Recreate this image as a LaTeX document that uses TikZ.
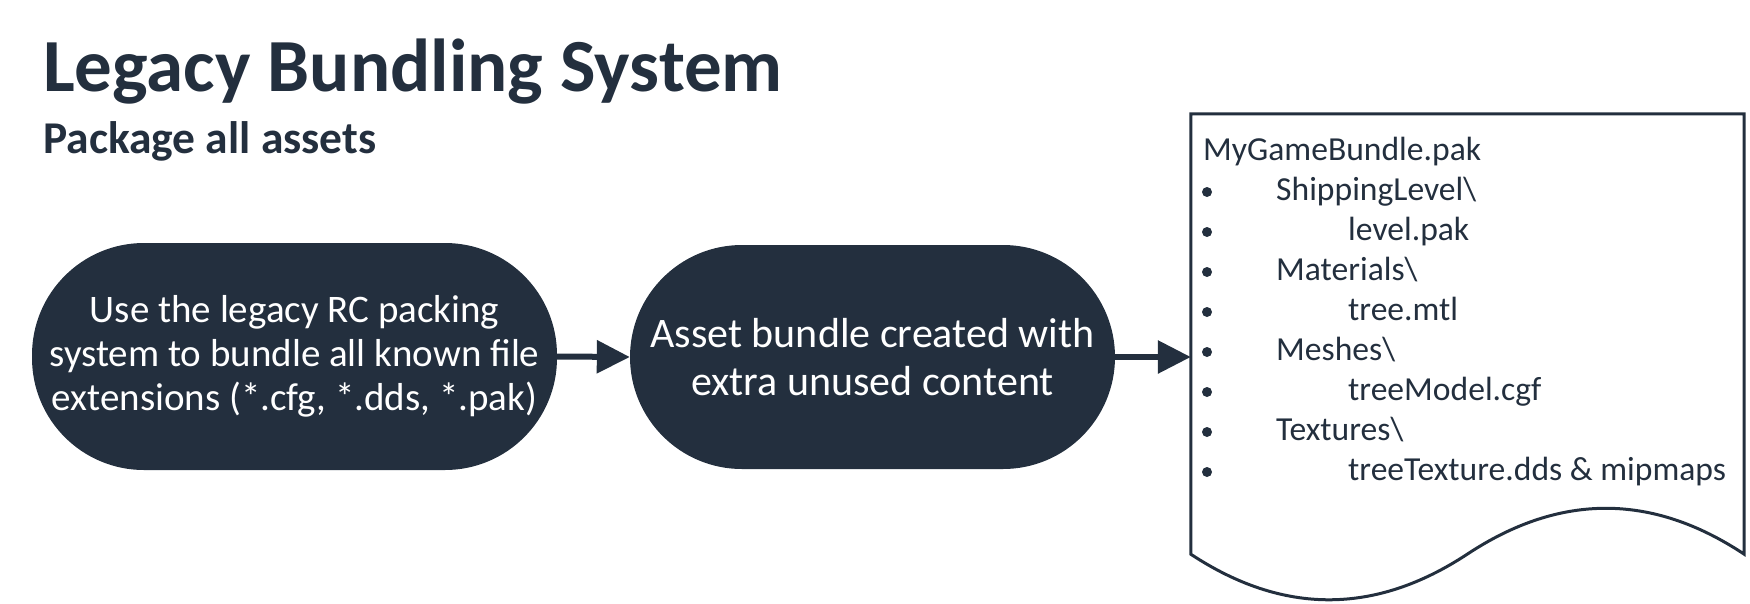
\documentclass[tikz,border=0pt]{standalone}
\usepackage{fontspec}
\setmainfont{Carlito}
\usetikzlibrary{arrows.meta}
\definecolor{ink}{HTML}{232F3E}
\tikzset{
  pill/.style={fill=ink, draw=none, rounded corners=112pt, text=white, align=center, inner sep=0pt},
  flowarrow/.style={draw=ink, line width=6pt, -{Triangle[length=33pt,width=32pt]}},
  doctext/.style={anchor=base west, inner sep=0pt, text=ink, font=\fontsize{33.6}{40}\selectfont},
  bulletdot/.style={fill=ink},
}
\begin{document}
\begin{tikzpicture}[x=1pt, y=-1pt]
\useasboundingbox (0,0) rectangle (1750,603);
% titles
\node[anchor=base west, inner sep=0pt, text=ink, font=\fontsize{75}{90}\selectfont\bfseries] (title) at (43,91) {Legacy Bundling System};
\node[anchor=base west, inner sep=0pt, text=ink, font=\fontsize{45.5}{52}\selectfont\bfseries] (subtitle) at (43,153) {Package all assets};
% process nodes
\node[pill, minimum width=525pt, minimum height=227pt, font=\fontsize{39}{44}\selectfont] (n1) at (294.5,356.5)
  {Use the legacy RC packing\\system to bundle all known file\\extensions (*.cfg, *.dds, *.pak)};
\node[pill, minimum width=485pt, minimum height=224pt, font=\fontsize{42}{48}\selectfont] (n2) at (872.5,357)
  {Asset bundle created with\\extra unused content};
% document shape
\node[inner sep=0pt, minimum width=553pt, minimum height=440pt] (doc) at (1467.5,334) {};
\draw[draw=ink, line width=3pt, line join=miter]
  (doc.north west) -- (doc.north east) -- (doc.south east)
  .. controls (1652,493) and (1560,493) .. (1467.5,554)
  .. controls (1375,615) and (1283,615) .. (doc.south west) -- cycle;
% arrows
\draw[flowarrow] (n1.east) -- (n2.west);
\draw[flowarrow] (n2.east) -- (n2.east -| doc.west);
% document text
\node[doctext] (l0) at (1203,160) {MyGameBundle.pak};
\node[doctext] (l1) at (1276,200) {ShippingLevel\textbackslash};
\node[doctext] (l2) at (1348,240) {level.pak};
\node[doctext] (l3) at (1276,280) {Materials\textbackslash};
\node[doctext] (l4) at (1348,320) {tree.mtl};
\node[doctext] (l5) at (1276,360) {Meshes\textbackslash};
\node[doctext] (l6) at (1348,400) {treeModel.cgf};
\node[doctext] (l7) at (1276,440) {Textures\textbackslash};
\node[doctext] (l8) at (1348,480) {treeTexture.dds \& mipmaps};
\foreach \yy in {200,240,...,480} {
  \fill[bulletdot] (1207,\yy-8) circle (5pt);
}
\end{tikzpicture}
\end{document}
